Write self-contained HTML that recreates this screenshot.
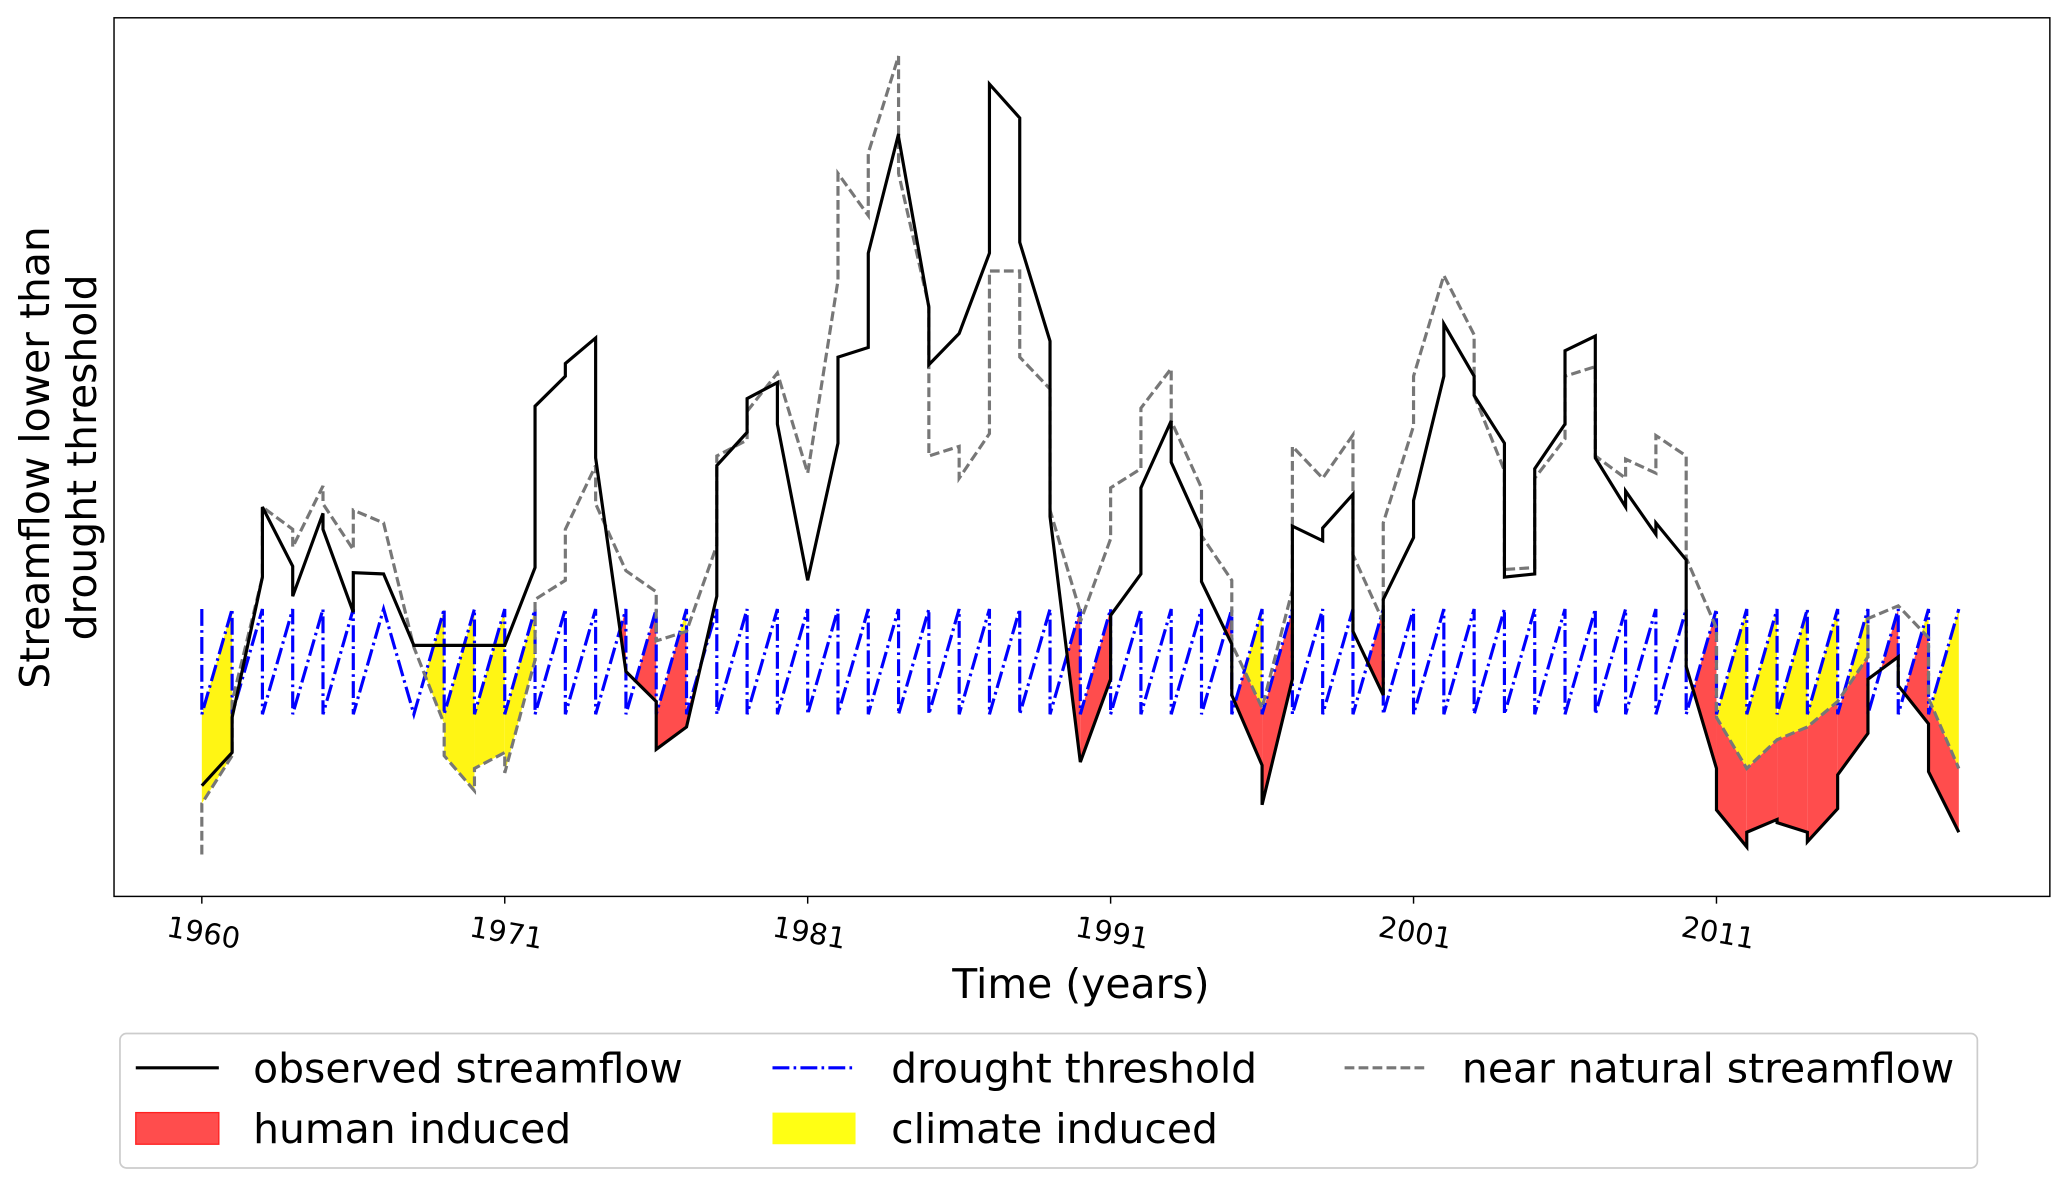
<!DOCTYPE html>
<html>
<head>
<meta charset="utf-8">
<style>
html,body{margin:0;padding:0;background:#fff;}
svg{display:block;}
text{font-family:"DejaVu Sans","Liberation Sans",sans-serif;fill:#000;}
</style>
</head>
<body>
<svg id="chart" width="2067" height="1188" viewBox="0 0 1568 901.2" preserveAspectRatio="none" xmlns="http://www.w3.org/2000/svg">
  <rect x="0" y="0" width="1568" height="901.2" fill="#fff"/>
  <g id="fills"></g>
  <g id="lines"></g>
  <rect x="86.5" y="13.5" width="1468.5" height="666.5" fill="none" stroke="#000" stroke-width="1.1"/>
  <g id="xticks"></g>
  <text x="820" y="757" font-size="31" text-anchor="middle">Time (years)</text>
  <g>
    <text transform="translate(37,347) rotate(-90)" font-size="31" text-anchor="middle">Streamflow lower than</text>
    <text transform="translate(73,347) rotate(-90)" font-size="31" text-anchor="middle">drought threshold</text>
  </g>
  <g>
    <rect x="91" y="784" width="1409" height="102" rx="5" fill="#fff" stroke="#ccc" stroke-width="1.3"/>
    <line x1="103" y1="810" x2="166" y2="810" stroke="#000" stroke-width="2.4"/>
    <text x="192" y="821" font-size="31">observed streamflow</text>
    <line x1="586" y1="810" x2="649" y2="810" stroke="#0000ff" stroke-width="2.4" stroke-dasharray="12.8 3.2 2 3.2"/>
    <text x="676" y="821" font-size="31">drought threshold</text>
    <line x1="1020" y1="810" x2="1083" y2="810" stroke="#777" stroke-width="2.4" stroke-dasharray="7.4 3.2"/>
    <text x="1109" y="821" font-size="31">near natural streamflow</text>
    <rect x="103" y="844" width="63" height="24" fill="#ff4d4d" stroke="#ff2020" stroke-width="1"/>
    <text x="192" y="867" font-size="31">human induced</text>
    <rect x="586" y="844" width="63" height="24" fill="#ffff14"/>
    <text x="676" y="867" font-size="31">climate induced</text>
  </g>
</svg>
<script>
// Tick labels (as printed) and their positions in years-from-start
const tickPos = [0, 10, 20, 30, 40, 50];
const tickLabels = ["1960", "1971", "1981", "1991", "2001", "2011"];
// Per-year segments: value at start (A) and end (B) of each year, arbitrary units
const obsA = [17.3,28.0,61.0,47.0,57.5,50.7,50.5,39.3,39.3,39.3,39.3,76.8,83.5,68.7,35.2,23.0,26.5,67.5,78.0,74.0,49.5,84.5,100.8,119.0,83.3,88.2,127.3,102.5,59.5,21.0,44.0,64.0,68.0,49.3,31.5,14.3,58.0,57.7,41.5,46.5,62.0,89.7,78.5,50.0,67.0,85.5,68.7,63.5,58.5,36.0,13.5,10.0,11.5,8.5,19.0,34.0,33.0,19.5];
const obsB = [22.5,50.0,51.7,60.0,44.5,50.5,39.3,39.3,39.3,39.3,51.5,81.5,87.5,35.2,30.5,26.5,47.0,72.7,80.5,49.5,71.0,86.0,119.5,92.3,88.2,100.8,122.0,87.0,21.0,34.0,50.5,74.5,57.5,39.5,20.5,34.0,55.7,63.0,31.5,56.2,81.5,81.5,71.0,50.5,74.0,87.8,61.0,56.7,52.7,20.0,7.7,12.0,10.0,13.7,25.5,37.5,27.0,10.0];
const natInit = 6.5;
const natA = [14.5,30.5,61.0,54.7,61.5,60.5,58.5,39.0,22.0,20.0,19.3,46.5,57.5,61.5,51.0,40.0,41.5,69.0,76.0,82.0,66.3,113.3,116.5,113.3,69.0,65.5,98.0,84.5,60.5,43.0,64.0,76.5,74.5,56.5,39.5,29.5,70.5,65.5,53.5,58.5,81.5,97.3,78.5,51.2,65.5,81.5,69.0,68.5,72.2,53.0,28.0,20.0,24.5,26.5,30.5,43.5,45.5,31.0];
const natB = [22.0,50.0,57.5,64.3,54.3,58.5,39.0,27.0,16.5,22.5,37.0,49.5,67.5,51.0,47.7,41.5,55.0,71.5,82.0,66.3,96.5,106.7,131.7,92.5,70.5,72.5,98.0,79.5,44.5,56.0,67.0,82.7,64.0,49.5,29.5,48.0,65.5,72.3,43.0,73.7,97.3,88.0,66.7,51.5,71.7,83.0,65.5,66.3,69.0,42.0,20.0,24.5,26.5,30.5,37.5,45.5,40.5,20.0];
const thrInit = 45;
const thrA = [28.5,28.5,28.5,28.5,28.5,28.5,45,28.5,28.5,28.5,28.5,28.5,28.5,28.5,28.5,28.5,28.5,28.5,28.5,28.5,28.5,28.5,28.5,28.5,28.5,28.5,28.5,28.5,28.5,28.5,28.5,28.5,28.5,28.5,28.5,28.5,28.5,28.5,28.5,28.5,28.5,28.5,28.5,28.5,28.5,28.5,28.5,28.5,28.5,28.5,28.5,28.5,28.5,28.5,28.5,28.5,28.5,28.5];
const thrB = [45,45,45,45,45,45,28.5,45,45,45,45,45,45,45,45,45,45,45,45,45,45,45,45,45,45,45,45,45,45,45,45,45,45,45,45,45,45,45,45,45,45,45,45,45,45,45,45,45,45,45,45,45,45,45,45,45,45,45];

const NS = "http://www.w3.org/2000/svg";
function xs(t){ return 153.1 + 22.98 * t; }
function ys(v){ return 679.7 - 4.838 * v; }

const fills = document.getElementById('fills');
const lines = document.getElementById('lines');
const xticks = document.getElementById('xticks');

for (let i = 0; i < tickPos.length; i++) {
  const x = xs(tickPos[i]);
  const tk = document.createElementNS(NS, 'line');
  tk.setAttribute('x1', x); tk.setAttribute('x2', x);
  tk.setAttribute('y1', 680); tk.setAttribute('y2', 685.5);
  tk.setAttribute('stroke', '#000'); tk.setAttribute('stroke-width', '1.1');
  
  
  xticks.appendChild(tk);
  const lb = document.createElementNS(NS, 'text');
  lb.setAttribute('transform', 'translate(' + x + ',715) rotate(10)');
  lb.setAttribute('font-size', '22');
  lb.setAttribute('text-anchor', 'middle');
  lb.textContent = tickLabels[i];
  
  
  xticks.appendChild(lb);
}

const N = 24;
for (let i = 0; i < obsA.length; i++) {
  const upY = [], loY = [], upR = [], loR = [];
  for (let k = 0; k <= N; k++) {
    const f = k / N, t = i + f;
    const o = obsA[i] + (obsB[i] - obsA[i]) * f;
    const n = natA[i] + (natB[i] - natA[i]) * f;
    const th = thrA[i] + (thrB[i] - thrA[i]) * f;
    const ly = Math.min(n, th);
    upY.push([xs(t), ys(th)]); loY.push([xs(t), ys(ly)]);
    const ur = Math.min(th, n);
    const lr = Math.min(o, ur);
    upR.push([xs(t), ys(ur)]); loR.push([xs(t), ys(lr)]);
  }
  const yp = upY.concat(loY.reverse()).map(p => p[0].toFixed(2) + ',' + p[1].toFixed(2)).join(' ');
  const py = document.createElementNS(NS, 'polygon');
  py.setAttribute('points', yp);
  py.setAttribute('fill', '#fff514');
  
  
  fills.appendChild(py);
  const rp = upR.concat(loR.reverse()).map(p => p[0].toFixed(2) + ',' + p[1].toFixed(2)).join(' ');
  const pr = document.createElementNS(NS, 'polygon');
  pr.setAttribute('points', rp);
  pr.setAttribute('fill', '#ff4d4d');
  
  
  fills.appendChild(pr);
}

function segPath(init, A, B) {
  let d = '';
  if (init !== null) d += 'M' + xs(0) + ',' + ys(init) + ' L';
  else d += 'M';
  for (let i = 0; i < A.length; i++) {
    d += xs(i).toFixed(2) + ',' + ys(A[i]).toFixed(2) + ' L' + xs(i + 1).toFixed(2) + ',' + ys(B[i]).toFixed(2);
    if (i < A.length - 1) d += ' L';
  }
  return d;
}

const thrP = document.createElementNS(NS, 'path');
thrP.setAttribute('d', segPath(thrInit, thrA, thrB));
thrP.setAttribute('fill', 'none'); thrP.setAttribute('stroke', '#0000ff');
thrP.setAttribute('stroke-width', '2.4'); thrP.setAttribute('stroke-dasharray', '12.8 3.2 2 3.2');


lines.appendChild(thrP);

const natP = document.createElementNS(NS, 'path');
natP.setAttribute('d', segPath(natInit, natA, natB));
natP.setAttribute('fill', 'none'); natP.setAttribute('stroke', '#777');
natP.setAttribute('stroke-width', '2.4'); natP.setAttribute('stroke-dasharray', '7.4 3.2');


lines.appendChild(natP);

const obsP = document.createElementNS(NS, 'path');
obsP.setAttribute('d', segPath(null, obsA, obsB));
obsP.setAttribute('fill', 'none'); obsP.setAttribute('stroke', '#000');
obsP.setAttribute('stroke-width', '2.4');


lines.appendChild(obsP);
</script>
</body>
</html>
